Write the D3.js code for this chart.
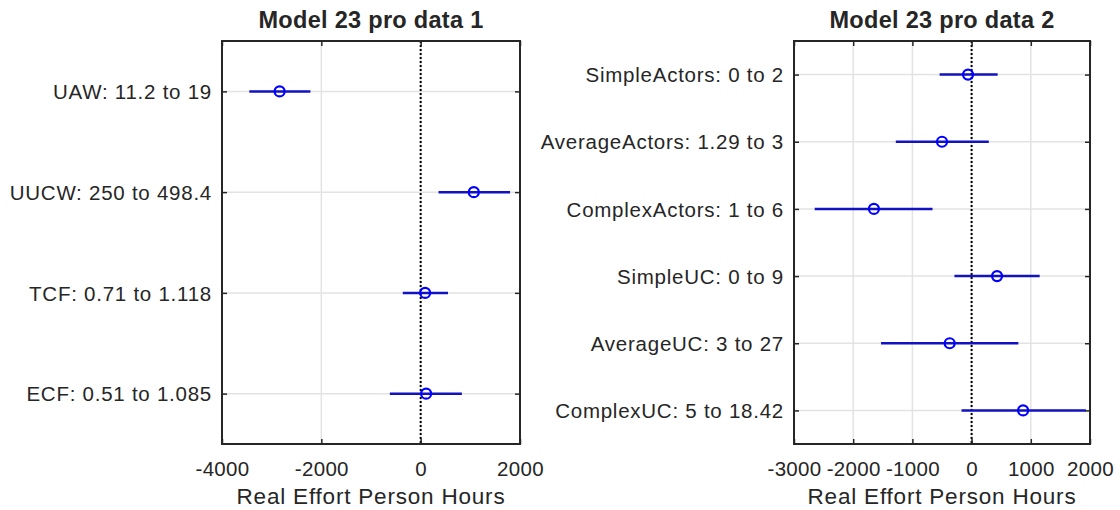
<!DOCTYPE html>
<html>
<head>
<meta charset="utf-8">
<script src="https://cdn.jsdelivr.net/npm/d3@7"></script>
<style>
  html, body { margin: 0; padding: 0; background: #fff; }
  svg { display: block; }
  text { font-family: "Liberation Sans", Arial, Helvetica, sans-serif; fill: #262626; }
</style>
</head>
<body>
<svg id="chart" width="1120" height="510"></svg>
<script>
// Panel 1: use-case-point factors
const factors1 = ["UAW: 11.2 to 19", "UUCW: 250 to 498.4", "TCF: 0.71 to 1.118", "ECF: 0.51 to 1.085"];
const center1 = [-2840, 1070, 90, 110];
const low1    = [-3450, 360, -360, -620];
const high1   = [-2220, 1800, 550, 830];
const ticks1  = [-4000, -2000, 0, 2000];

// Panel 2: actor and use-case counts
const factors2 = ["SimpleActors: 0 to 2", "AverageActors: 1.29 to 3", "ComplexActors: 1 to 6",
                  "SimpleUC: 0 to 9", "AverageUC: 3 to 27", "ComplexUC: 5 to 18.42"];
const center2 = [-60, -500, -1650, 430, -370, 870];
const low2    = [-540, -1280, -2650, -290, -1530, -170];
const high2   = [440, 290, -660, 1150, 790, 1930];
const ticks2  = [-3000, -2000, -1000, 0, 1000, 2000];

const titles = ["Model 23 pro data 1", "Model 23 pro data 2"];
const xLabel = "Real Effort Person Hours";

const svg = d3.select("#chart");

function panel(opts) {
  const { left, right, top, bottom, names, center, low, high, ticks, title } = opts;
  const n = names.length;
  const x = d3.scaleLinear().domain([ticks[0], ticks[ticks.length - 1]]).range([left, right]);
  const y = d3.scaleLinear().domain([0.5, n + 0.5]).range([top, bottom]);
  const rows = d3.range(1, n + 1);
  const g = svg.append("g");

  // grid
  g.selectAll("line.gx").data(ticks.slice(1, -1)).join("line")
    .attr("x1", d => x(d)).attr("x2", d => x(d))
    .attr("y1", top).attr("y2", bottom)
    .attr("stroke", "#e3e3e3").attr("stroke-width", 1.5);
  g.selectAll("line.gy").data(rows).join("line")
    .attr("x1", left).attr("x2", right)
    .attr("y1", d => y(d)).attr("y2", d => y(d))
    .attr("stroke", "#e3e3e3").attr("stroke-width", 1.5);

  // zero reference line
  g.append("line")
    .attr("x1", x(0)).attr("x2", x(0)).attr("y1", top).attr("y2", bottom)
    .attr("stroke", "#000").attr("stroke-width", 2).attr("stroke-dasharray", "2,2");

  // bottom axis with inward ticks; plain hyphen for negatives
  const xAxis = d3.axisBottom(x).tickValues(ticks).tickSizeInner(-5).tickSizeOuter(0).tickPadding(0)
    .tickFormat(d => String(d));
  const ax = g.append("g").attr("transform", `translate(0,${bottom})`).call(xAxis);
  ax.select(".domain").remove();
  ax.selectAll(".tick line").attr("stroke", "#262626").attr("stroke-width", 1.5);
  ax.selectAll(".tick text").attr("y", 32).attr("dy", null)
    .style("font-size", "20.5px").style("letter-spacing", "0.3px").attr("fill", "#262626");

  // top inward ticks
  const axTop = g.append("g").attr("transform", `translate(0,${top})`)
    .call(d3.axisTop(x).tickValues(ticks).tickSizeInner(-5).tickSizeOuter(0).tickFormat(""));
  axTop.select(".domain").remove();
  axTop.selectAll(".tick line").attr("stroke", "#262626").attr("stroke-width", 1.5);

  // left axis with category labels
  const yAxis = d3.axisLeft(y).tickValues(rows).tickSizeInner(-5).tickSizeOuter(0).tickPadding(10)
    .tickFormat(d => names[d - 1]);
  const ay = g.append("g").attr("transform", `translate(${left},0)`).call(yAxis);
  ay.select(".domain").remove();
  ay.selectAll(".tick line").attr("stroke", "#262626").attr("stroke-width", 1.5);
  ay.selectAll(".tick text").style("font-size", "20.5px").style("letter-spacing", "0.75px")
    .attr("fill", "#262626").attr("x", -10).attr("dy", "0.35em");

  // right inward ticks
  const ayR = g.append("g").attr("transform", `translate(${right},0)`)
    .call(d3.axisRight(y).tickValues(rows).tickSizeInner(-5).tickSizeOuter(0).tickFormat(""));
  ayR.select(".domain").remove();
  ayR.selectAll(".tick line").attr("stroke", "#262626").attr("stroke-width", 1.5);

  // frame
  g.append("rect")
    .attr("x", left).attr("y", top).attr("width", right - left).attr("height", bottom - top)
    .attr("fill", "none").attr("stroke", "#262626").attr("stroke-width", 2);

  // interval bars
  g.selectAll("line.err").data(rows).join("line")
    .attr("x1", d => x(low[d - 1])).attr("x2", d => x(high[d - 1]))
    .attr("y1", d => y(d)).attr("y2", d => y(d))
    .attr("stroke", "#1212c0").attr("stroke-width", 2.5);

  // point estimates
  g.selectAll("circle.pt").data(rows).join("circle")
    .attr("cx", d => x(center[d - 1])).attr("cy", d => y(d)).attr("r", 5)
    .attr("fill", "none").attr("stroke", "#0000ff").attr("stroke-width", 2.2);

  // title and x label
  g.append("text").attr("x", (left + right) / 2).attr("y", 28)
    .attr("text-anchor", "middle").style("font-size", "23.5px").style("font-weight", "bold")
    .style("letter-spacing", "0.3px").attr("fill", "#000").text(title);
  g.append("text").attr("x", (left + right) / 2).attr("y", 504)
    .attr("text-anchor", "middle").style("font-size", "22.5px").style("letter-spacing", "0.8px")
    .attr("fill", "#262626").text(xLabel);
}

panel({ left: 222, right: 520, top: 41, bottom: 444, names: factors1, center: center1,
        low: low1, high: high1, ticks: ticks1, title: titles[0] });
panel({ left: 794, right: 1090, top: 41, bottom: 444, names: factors2, center: center2,
        low: low2, high: high2, ticks: ticks2, title: titles[1] });
</script>
</body>
</html>
